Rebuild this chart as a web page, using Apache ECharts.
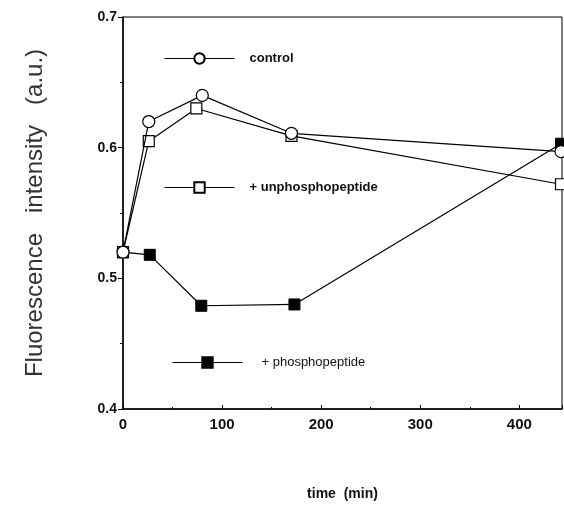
<!DOCTYPE html>
<html>
<head>
<meta charset="utf-8">
<script src="https://cdn.jsdelivr.net/npm/echarts@6/dist/echarts.min.js"></script>
<style>
  html, body { margin: 0; padding: 0; background: #fff; }
  #main { width: 564px; height: 506px; }
</style>
</head>
<body>
<div id="main"></div>
<script>
// 时间点 (min)
const timeControl = [0, 26, 80, 170, 442];
const timeUnphospho = [0, 26, 74, 170, 442];
const timePhospho = [0, 27, 79, 173, 442];

// 荧光强度
const control = [0.52, 0.620, 0.640, 0.611, 0.597];
const unphospho = [0.52, 0.605, 0.630, 0.609, 0.572];
const phospho = [0.52, 0.518, 0.479, 0.480, 0.603];

const seriesNames = ['control', '+ unphosphopeptide', '+ phosphopeptide'];

function pairs(xs, ys) {
  return xs.map((x, i) => [x, ys[i]]);
}

const chart = echarts.init(document.getElementById('main'), null, { renderer: 'canvas' });

const lineStyle = { color: '#000', width: 1.2 };

// 图例放在绘图区内部
function legendAt(name, left, top, textPad, weight) {
  return {
    data: [name],
    left: left,
    top: top,
    itemWidth: 70,
    itemHeight: 13,
    selectedMode: false,
    lineStyle: { width: 1 },
    textStyle: {
      color: '#111',
      fontSize: 13,
      fontWeight: weight,
      fontFamily: 'Liberation Sans, Arial, sans-serif',
      padding: [0, 0, 0, textPad]
    }
  };
}

const option = {
  backgroundColor: '#fff',
  animation: false,
  grid: {
    left: 123,
    right: 2,
    top: 17,
    bottom: 91,
    show: true,
    borderColor: '#000',
    borderWidth: 1
  },
  legend: [
    legendAt(seriesNames[0], 159, 47, 10, 'bold'),
    legendAt(seriesNames[1], 159, 176, 10, 'bold'),
    legendAt(seriesNames[2], 167, 351, 14, 'normal')
  ],
  xAxis: {
    type: 'value',
    min: 0,
    max: 443,
    interval: 100,
    name: 'time  (min)',
    nameLocation: 'middle',
    nameGap: 78,
    nameTextStyle: { color: '#111', fontSize: 14, fontWeight: 'bold', fontFamily: 'Liberation Sans, Arial, sans-serif' },
    axisLine: { onZero: false, lineStyle: { color: '#000', width: 1.5 } },
    axisTick: { inside: true, length: 4, lineStyle: { color: '#000' } },
    minorTick: { show: true, splitNumber: 2, length: 2, lineStyle: { color: '#000' } },
    splitLine: { show: false },
    axisLabel: {
      showMaxLabel: false,
      color: '#111',
      fontSize: 15,
      fontWeight: 'bold',
      margin: 8,
      fontFamily: 'Liberation Sans, Arial, sans-serif'
    }
  },
  yAxis: {
    type: 'value',
    min: 0.4,
    max: 0.7,
    interval: 0.1,
    name: 'Fluorescence   intensity   (a.u.)',
    nameLocation: 'middle',
    nameGap: 76,
    nameTextStyle: { color: '#333', fontSize: 24, fontFamily: 'Liberation Sans, Arial, sans-serif' },
    axisLine: { onZero: false, lineStyle: { color: '#000', width: 1.5 } },
    axisTick: { length: 5, lineStyle: { color: '#000' } },
    minorTick: { show: true, splitNumber: 2, length: 3, lineStyle: { color: '#000' } },
    splitLine: { show: false },
    axisLabel: {
      formatter: v => v.toFixed(1),
      color: '#111',
      fontSize: 14,
      fontWeight: 'bold',
      margin: 6,
      fontFamily: 'Liberation Sans, Arial, sans-serif'
    }
  },
  series: [
    {
      name: seriesNames[2],
      type: 'line',
      data: pairs(timePhospho, phospho),
      symbol: 'rect',
      symbolSize: 11,
      clip: false,
      lineStyle: lineStyle,
      itemStyle: { color: '#000', borderColor: '#000', borderWidth: 1 },
      z: 2
    },
    {
      name: seriesNames[1],
      type: 'line',
      data: pairs(timeUnphospho, unphospho),
      symbol: 'rect',
      symbolSize: 11,
      showAllSymbol: true,
      clip: false,
      lineStyle: lineStyle,
      itemStyle: { color: '#fff', borderColor: '#000', borderWidth: 1.2 },
      z: 3
    },
    {
      name: seriesNames[0],
      type: 'line',
      data: pairs(timeControl, control),
      symbol: 'circle',
      symbolSize: 12,
      clip: false,
      lineStyle: lineStyle,
      itemStyle: { color: '#fff', borderColor: '#000', borderWidth: 1.2 },
      z: 4
    }
  ]
};

chart.setOption(option);
</script>
</body>
</html>
